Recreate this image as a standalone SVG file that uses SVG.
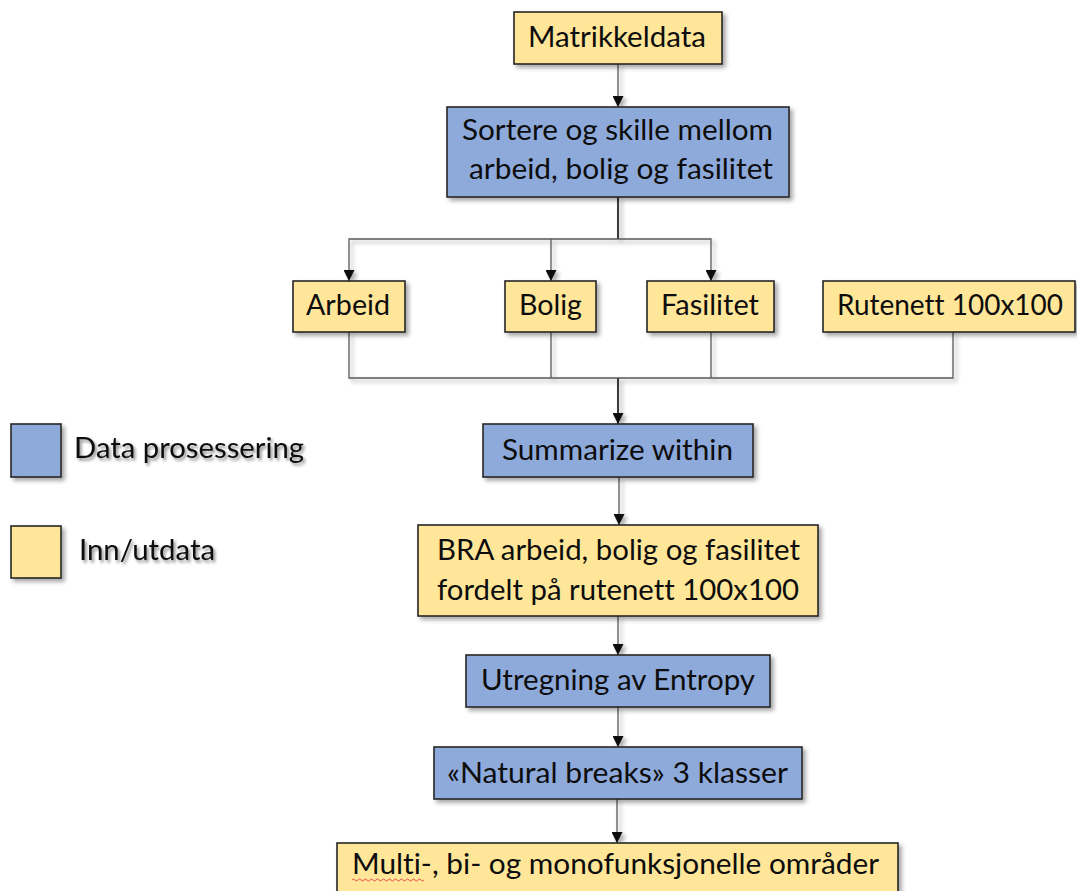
<svg xmlns="http://www.w3.org/2000/svg" width="1077" height="891" viewBox="0 0 1077 891">
  <style>
    .box { stroke: #262626; stroke-width: 1.6; }
    .proc { fill: #8eaadb; }
    .io { fill: #ffe699; }
    .lbl { font-family: Lato, "Open Sans", "Liberation Sans", sans-serif; font-size: 28px; fill: #0d0d0d; font-variant-ligatures: none; font-feature-settings: "liga" 0, "clig" 0; }
    .wire { fill: none; stroke: #595959; stroke-width: 1.3; }
    .trunk { fill: none; stroke: #3a3a3a; stroke-width: 2; }
  </style>
  <defs>
    <filter id="shadow" x="-10%" y="-20%" width="130%" height="160%">
      <feDropShadow dx="3" dy="3" stdDeviation="2" flood-color="#000" flood-opacity="0.35"/>
    </filter>
    <filter id="tshadow" x="-10%" y="-30%" width="130%" height="170%">
      <feDropShadow dx="2" dy="2.5" stdDeviation="1.6" flood-color="#000" flood-opacity="0.45"/>
    </filter>
    <marker id="arrow" markerUnits="userSpaceOnUse" markerWidth="11" markerHeight="11" viewBox="0 0 10 10" refX="10" refY="5" orient="auto">
      <path d="M0,0 L10,5 L0,10 z" fill="#111"/>
    </marker>
  </defs>

  <rect width="1077" height="891" fill="#ffffff"/>

  <!-- connectors -->
  <g id="connectors" filter="url(#shadow)">
    <path class="wire" d="M618,64 V107" marker-end="url(#arrow)"/>
    <path class="trunk" d="M618,197 V239"/>
    <path class="wire" d="M618,239 H349 V281" marker-end="url(#arrow)"/>
    <path class="wire" d="M551,239 V281" marker-end="url(#arrow)"/>
    <path class="wire" d="M618,239 H711 V281" marker-end="url(#arrow)"/>
    <path class="wire" d="M349,332 V378 H953 V332"/>
    <path class="wire" d="M551,332 V378"/>
    <path class="wire" d="M711,332 V378"/>
    <path class="trunk" d="M618,378 V424" marker-end="url(#arrow)"/>
    <path class="wire" d="M619,477 V525" marker-end="url(#arrow)"/>
    <path class="wire" d="M618,616 V655" marker-end="url(#arrow)"/>
    <path class="wire" d="M618,707 V747" marker-end="url(#arrow)"/>
    <path class="wire" d="M617,799 V843" marker-end="url(#arrow)"/>
  </g>

  <g id="matrikkeldata">
    <rect class="box io" x="514" y="12" width="208" height="52" filter="url(#shadow)"/>
    <text class="lbl" x="528" y="47" textLength="178" lengthAdjust="spacingAndGlyphs">Matrikkeldata</text>
  </g>

  <g id="sortere">
    <rect class="box proc" x="447" y="107" width="342" height="90" filter="url(#shadow)"/>
    <text class="lbl" x="462" y="140" textLength="311" lengthAdjust="spacingAndGlyphs">Sortere og skille mellom</text>
    <text class="lbl" x="469" y="179" textLength="304" lengthAdjust="spacingAndGlyphs">arbeid, bolig og fasilitet</text>
  </g>

  <g id="arbeid">
    <rect class="box io" x="293" y="281" width="112" height="51" filter="url(#shadow)"/>
    <text class="lbl" x="306" y="315" textLength="84" lengthAdjust="spacingAndGlyphs">Arbeid</text>
  </g>

  <g id="bolig">
    <rect class="box io" x="505" y="281" width="91" height="51" filter="url(#shadow)"/>
    <text class="lbl" x="519" y="315" textLength="63" lengthAdjust="spacingAndGlyphs">Bolig</text>
  </g>

  <g id="fasilitet">
    <rect class="box io" x="647" y="281" width="127" height="51" filter="url(#shadow)"/>
    <text class="lbl" x="661" y="315" textLength="98" lengthAdjust="spacingAndGlyphs">Fasilitet</text>
  </g>

  <g id="rutenett">
    <rect class="box io" x="823" y="281" width="252" height="51" filter="url(#shadow)"/>
    <text class="lbl" x="837" y="315" textLength="226" lengthAdjust="spacingAndGlyphs">Rutenett 100x100</text>
  </g>

  <g id="summarize">
    <rect class="box proc" x="483" y="424" width="270" height="53" filter="url(#shadow)"/>
    <text class="lbl" x="502" y="460" textLength="231" lengthAdjust="spacingAndGlyphs">Summarize within</text>
  </g>

  <g id="bra">
    <rect class="box io" x="418" y="525" width="400" height="91" filter="url(#shadow)"/>
    <text class="lbl" x="437" y="560" textLength="363" lengthAdjust="spacingAndGlyphs">BRA arbeid, bolig og fasilitet</text>
    <text class="lbl" x="437" y="600" textLength="362" lengthAdjust="spacingAndGlyphs">fordelt på rutenett 100x100</text>
  </g>

  <g id="entropy">
    <rect class="box proc" x="466" y="655" width="304" height="52" filter="url(#shadow)"/>
    <text class="lbl" x="481" y="690" textLength="274" lengthAdjust="spacingAndGlyphs">Utregning av Entropy</text>
  </g>

  <g id="natural-breaks">
    <rect class="box proc" x="434" y="747" width="368" height="52" filter="url(#shadow)"/>
    <text class="lbl" x="447" y="783" textLength="341" lengthAdjust="spacingAndGlyphs">«Natural breaks» 3 klasser</text>
  </g>

  <g id="resultat">
    <rect class="box io" x="337" y="843" width="561" height="60" filter="url(#shadow)"/>
    <text class="lbl" x="352" y="874" textLength="527" lengthAdjust="spacingAndGlyphs">Multi-, bi- og monofunksjonelle områder</text>
    <path d="M352,880 q1.5,-2 3,0 t3,0 t3,0 t3,0 t3,0 t3,0 t3,0 t3,0 t3,0 t3,0 t3,0 t3,0 t3,0 t3,0 t3,0 t3,0 t3,0 t3,0 t3,0 t3,0 t3,0 t3,0 t3,0 t3,0" fill="none" stroke="#e04040" stroke-width="0.9"/>
  </g>

  <g id="legend">
    <rect class="box proc" x="11" y="424" width="50" height="53" filter="url(#shadow)"/>
    <text class="lbl" x="74" y="458" textLength="230" lengthAdjust="spacingAndGlyphs" filter="url(#tshadow)">Data prosessering</text>
    <rect class="box io" x="11" y="526" width="50" height="52" filter="url(#shadow)"/>
    <text class="lbl" x="79" y="560" textLength="136" lengthAdjust="spacingAndGlyphs" filter="url(#tshadow)">Inn/utdata</text>
  </g>
</svg>
